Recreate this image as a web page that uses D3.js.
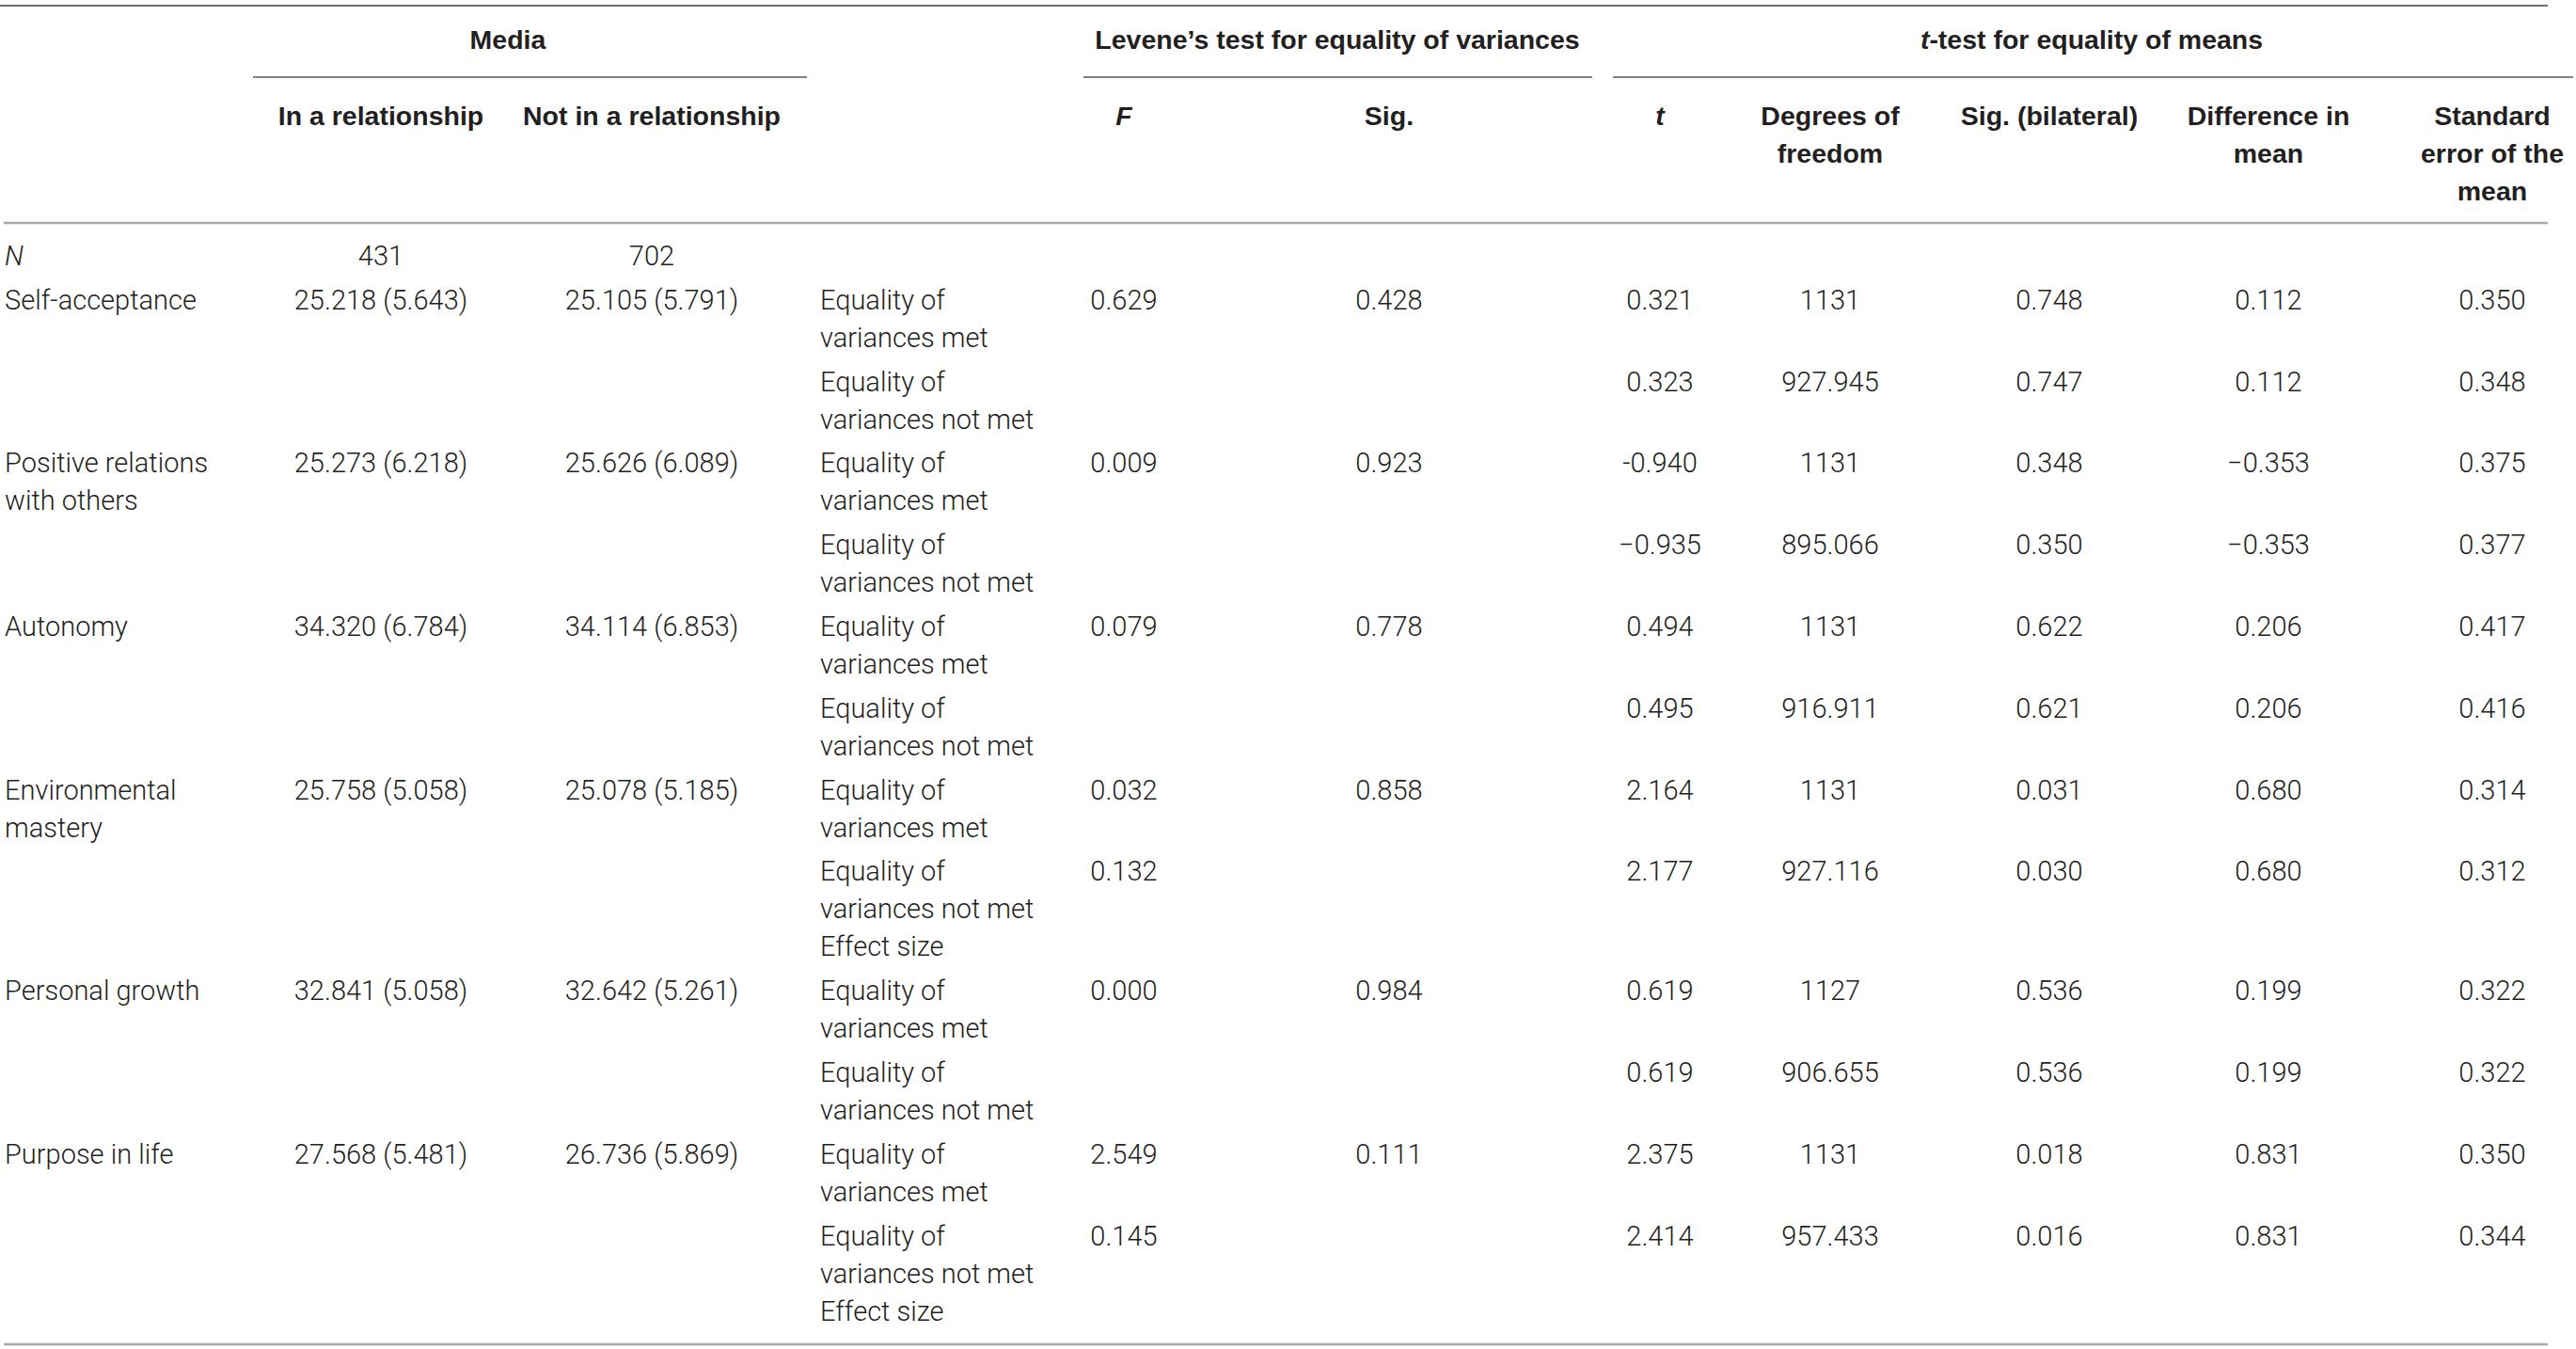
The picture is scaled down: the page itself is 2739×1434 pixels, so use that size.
<!DOCTYPE html>
<html>
<head>
<meta charset="utf-8">
<script src="https://cdn.jsdelivr.net/npm/d3@7"></script>
<style>
  html, body { margin: 0; padding: 0; background: #fff; }
  svg { display: block; }
  text { font-family: Roboto, "Liberation Sans", Arial, sans-serif; fill: #231f20; }
  text.hd { font-family: "Liberation Sans", Arial, sans-serif; }
</style>
</head>
<body>
<script>
// ---------------- DATA ----------------
const groupHeaders = ["Media", "Levene’s test for equality of variances", "t-test for equality of means"];
const columnHeaders = ["", "In a relationship", "Not in a relationship", "", "F", "Sig.", "t",
  "Degrees of\nfreedom", "Sig. (bilateral)", "Difference in\nmean", "Standard\nerror of the\nmean"];

const rowLabels = ["N", "Self-acceptance", "Positive relations\nwith others", "Autonomy",
  "Environmental\nmastery", "Personal growth", "Purpose in life"];
const inRelationship = ["431", "25.218 (5.643)", "25.273 (6.218)", "34.320 (6.784)",
  "25.758 (5.058)", "32.841 (5.058)", "27.568 (5.481)"];
const notInRelationship = ["702", "25.105 (5.791)", "25.626 (6.089)", "34.114 (6.853)",
  "25.078 (5.185)", "32.642 (5.261)", "26.736 (5.869)"];

// two sub-rows per scale (6 scales)
const testConditions = [
  "Equality of\nvariances met", "Equality of\nvariances not met",
  "Equality of\nvariances met", "Equality of\nvariances not met",
  "Equality of\nvariances met", "Equality of\nvariances not met",
  "Equality of\nvariances met", "Equality of\nvariances not met\nEffect size",
  "Equality of\nvariances met", "Equality of\nvariances not met",
  "Equality of\nvariances met", "Equality of\nvariances not met\nEffect size"];
const leveneF   = ["0.629", "", "0.009", "", "0.079", "", "0.032", "0.132", "0.000", "", "2.549", "0.145"];
const leveneSig = ["0.428", "", "0.923", "", "0.778", "", "0.858", "", "0.984", "", "0.111", ""];
const tValues   = ["0.321", "0.323", "-0.940", "\u22120.935", "0.494", "0.495", "2.164", "2.177", "0.619", "0.619", "2.375", "2.414"];
const degreesFreedom = ["1131", "927.945", "1131", "895.066", "1131", "916.911", "1131", "927.116", "1127", "906.655", "1131", "957.433"];
const sigBilateral = ["0.748", "0.747", "0.348", "0.350", "0.622", "0.621", "0.031", "0.030", "0.536", "0.536", "0.018", "0.016"];
const meanDiff  = ["0.112", "0.112", "\u22120.353", "\u22120.353", "0.206", "0.206", "0.680", "0.680", "0.199", "0.199", "0.831", "0.831"];
const stdError  = ["0.350", "0.348", "0.375", "0.377", "0.417", "0.416", "0.314", "0.312", "0.322", "0.322", "0.350", "0.344"];

// ---------------- LAYOUT ----------------
const W = 2739, H = 1434;
const FS = 29, HFS = 28.5, LINE = 40;
const colKeys = ["label", "rel", "notrel", "cond", "F", "sig", "t", "df", "sigb", "diff", "se"];
const x = d3.scaleOrdinal().domain(colKeys)
  .range([5, 405, 693, 872, 1195, 1477, 1765, 1946, 2179, 2412, 2650]);
const anchor = d3.scaleOrdinal().domain(colKeys)
  .range(["start", "middle", "middle", "start", "middle", "middle", "middle", "middle", "middle", "middle", "middle"]);

const svg = d3.select("body").append("svg").attr("width", W).attr("height", H);

// multi-line text helper
function mtext(g, str, xx, y, anc, weight, style, cls, fs) {
  const t = g.append("text").attr("x", xx).attr("y", y)
    .attr("class", cls || null)
    .attr("text-anchor", anc).attr("font-size", fs || FS)
    .attr("font-weight", weight).attr("font-style", style || "normal");
  str.split("\n").forEach((s, i) => {
    t.append("tspan").attr("x", xx).attr("dy", i === 0 ? 0 : LINE).text(s);
  });
  return t;
}

// rules
const rules = svg.append("g");
rules.append("line").attr("x1", 0).attr("x2", 2709).attr("y1", 6).attr("y2", 6)
  .attr("stroke", "#6d6e71").attr("stroke-width", 2);
[[269, 858], [1152, 1693], [1715, 2736]].forEach(([a, b]) => {
  rules.append("line").attr("x1", a).attr("x2", b).attr("y1", 82).attr("y2", 82)
    .attr("stroke", "#808285").attr("stroke-width", 2);
});
rules.append("line").attr("x1", 4).attr("x2", 2709).attr("y1", 237).attr("y2", 237)
  .attr("stroke", "#a7a9ac").attr("stroke-width", 2.5);
rules.append("line").attr("x1", 4).attr("x2", 2709).attr("y1", 1429).attr("y2", 1429)
  .attr("stroke", "#a7a9ac").attr("stroke-width", 2.5);

// group headers
const hdr = svg.append("g");
const groupX = [540, 1422, 2224];
groupHeaders.forEach((h, i) => {
  const t = hdr.append("text").attr("class", "hd").attr("x", groupX[i]).attr("y", 52)
    .attr("text-anchor", "middle").attr("font-size", HFS).attr("font-weight", 700);
  if (h.startsWith("t-")) {
    t.append("tspan").attr("font-style", "italic").text("t");
    t.append("tspan").text(h.slice(1));
  } else t.text(h);
});

// column headers
columnHeaders.forEach((h, i) => {
  if (!h) return;
  const italic = (h === "F" || h === "t");
  mtext(hdr, h, x(colKeys[i]), 133, "middle", 700, italic ? "italic" : "normal", "hd", HFS);
});

// body rows: y in line units
const units = [];
let u = 0;
units.push({ row: 0, sub: -1, u: u }); u += 1.17;
for (let r = 1; r < rowLabels.length; r++) {
  for (let s = 0; s < 2; s++) {
    const k = (r - 1) * 2 + s;
    units.push({ row: r, sub: k, u: u });
    u += testConditions[k].split("\n").length + 0.17;
  }
}
const y = d3.scaleLinear().domain([0, 1]).range([282, 282 + LINE]);

const body = svg.append("g");
units.forEach(d => {
  const yy = y(d.u);
  if (d.sub === -1 || d.sub % 2 === 0) {
    mtext(body, rowLabels[d.row], x("label"), yy, anchor("label"), 300, d.row === 0 ? "italic" : "normal");
    mtext(body, inRelationship[d.row], x("rel"), yy, anchor("rel"), 300);
    mtext(body, notInRelationship[d.row], x("notrel"), yy, anchor("notrel"), 300);
  }
  if (d.sub >= 0) {
    const k = d.sub;
    const cells = [["cond", testConditions[k]], ["F", leveneF[k]], ["sig", leveneSig[k]],
      ["t", tValues[k]], ["df", degreesFreedom[k]], ["sigb", sigBilateral[k]],
      ["diff", meanDiff[k]], ["se", stdError[k]]];
    cells.forEach(([c, v]) => { if (v) mtext(body, v, x(c), yy, anchor(c), 300); });
  }
});
</script>
</body>
</html>
